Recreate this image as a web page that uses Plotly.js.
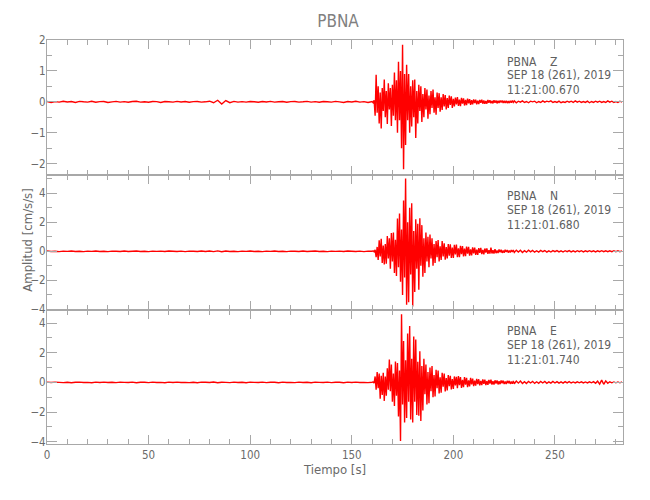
<!DOCTYPE html>
<html>
<head>
<meta charset="utf-8">
<script src="https://cdn.plot.ly/plotly-3.0.1.min.js"></script>
<style>
  html, body { margin: 0; padding: 0; background: #ffffff; }
  #chart { width: 650px; height: 500px; }
</style>
</head>
<body>
<div id="chart"></div>
<script>
// ---------------- data ----------------
const station = "PBNA";
const components = ["Z", "N", "E"];
const dateLabel = "SEP 18 (261), 2019";
const startTimes = ["11:21:00.670", "11:21:01.680", "11:21:01.740"];

// sampling of the three segments of each trace: [start time (s), step (s)]
const preSampling  = [0, 2];       // 0 .. 160 s
const actSampling  = [160.5, 0.5]; // 160.5 .. 230 s
const tailSampling = [231, 1];     // 231 .. 283 s

// ---- Z component (cm/s/s) ----
const zPre = [
  0.01,-0.02,0.005,-0.01,0.02,-0.005,0.01,-0.02,0.015,0.0,
  -0.01,0.02,-0.015,0.005,0.01,-0.02,0.0,0.015,-0.01,0.005,
  -0.015,0.01,0.02,-0.01,0.0,-0.015,0.01,0.005,-0.02,0.01,
  0.0,-0.01,0.015,-0.005,0.01,-0.015,0.005,0.01,-0.01,0.0,
  0.02,-0.03,0.05,-0.07,0.04,-0.03,0.015,-0.01,0.005,-0.01,
  0.01,0.0,-0.015,0.01,-0.005,0.015,-0.01,0.0,0.01,-0.015,
  0.005,0.01,-0.01,0.0,0.015,-0.01,0.005,-0.015,0.01,0.0,
  -0.01,0.015,0.0,-0.02,0.01,-0.005,0.02,-0.01,0.005,-0.02,
  0.01
];
const zAct = [
  -0.03,0.05,-0.45,0.88,-0.35,0.5,-0.7,0.3,-0.86,0.45,
  -0.3,0.72,-0.5,0.35,-0.72,0.6,-0.25,0.45,-0.78,0.55,
  -0.45,0.95,-0.6,0.7,-1.0,1.3,-0.6,1.0,-1.5,1.85,
  -2.18,0.9,-1.4,1.2,-0.6,0.9,-1.0,0.5,-0.8,0.7,
  -0.5,0.72,-1.17,0.35,-0.7,0.55,-0.3,0.5,-0.65,0.25,
  -0.5,0.45,-0.25,0.4,-0.55,0.2,-0.4,0.35,-0.2,0.4,
  -0.35,0.15,-0.42,0.3,-0.2,0.28,-0.32,0.15,-0.26,0.25,
  -0.15,0.22,-0.25,0.12,-0.2,0.2,-0.1,0.18,-0.2,0.1,
  -0.15,0.14,-0.08,0.15,-0.13,0.07,-0.14,0.13,-0.06,0.11,
  -0.12,0.06,-0.11,0.1,-0.05,0.09,-0.1,0.05,-0.08,0.08,
  -0.04,0.07,-0.08,0.04,-0.07,0.06,-0.03,0.07,-0.06,0.04,
  -0.06,0.03,-0.06,0.06,-0.03,0.05,-0.05,0.03,-0.05,0.05,
  -0.03,0.04,-0.05,0.03,-0.04,0.04,-0.02,0.04,-0.04,0.03,
  -0.04,0.03,-0.04,0.02,-0.04,0.03,-0.03,0.04,-0.02,0.03
];
const zTail = [
  -0.03,0.02,-0.01,0.03,-0.02,0.01,-0.03,0.02,0.0,0.02,
  -0.03,0.01,-0.02,0.03,-0.01,0.02,0.0,0.03,-0.02,0.01,
  -0.02,0.02,-0.03,0.0,-0.02,0.02,-0.01,0.02,-0.02,0.03,
  -0.01,0.02,-0.02,0.01,-0.02,0.02,-0.03,0.01,-0.02,0.02,
  -0.01,0.02,-0.02,0.01,-0.02,0.03,-0.01,0.02,-0.02,0.01,
  -0.02,0.02,-0.01
];

// ---- N component (cm/s/s) ----
const nPre = [
  0.02,-0.01,0.0,-0.02,0.015,-0.005,0.02,-0.015,0.0,-0.02,
  0.01,-0.005,0.02,-0.01,0.005,-0.02,0.015,0.0,-0.01,0.02,
  -0.015,0.005,0.02,-0.01,0.0,-0.02,0.015,-0.005,0.01,-0.015,
  0.02,0.0,-0.015,0.01,-0.02,0.015,0.005,-0.01,0.02,-0.015,
  0.02,-0.02,0.03,-0.03,0.02,-0.01,0.0,-0.02,0.015,-0.005,
  0.02,-0.015,0.0,-0.02,0.01,-0.005,0.02,-0.01,0.005,-0.02,
  0.015,0.0,-0.01,0.02,-0.015,0.005,0.02,-0.01,0.0,-0.02,
  0.015,-0.005,0.01,-0.015,0.02,0.0,-0.015,0.01,-0.02,0.015,
  0.0
];
const nAct = [
  0.03,-0.04,0.1,-0.4,0.3,-0.6,0.75,-0.35,0.86,-0.8,
  0.4,-0.9,0.5,-0.85,1.05,-0.5,0.9,-1.2,1.25,-0.7,
  1.3,-1.5,0.8,-1.7,2.26,-1.1,2.6,-2.1,1.5,-3.0,
  3.5,-1.8,5.0,-3.67,2.0,-3.5,3.0,-1.6,3.3,-3.8,
  1.4,-2.8,2.2,-1.2,1.9,-2.65,2.27,-1.0,1.8,-1.75,
  0.9,-1.5,1.3,-0.7,1.0,-1.1,1.15,-0.5,0.9,-1.0,
  0.5,-0.8,0.7,-0.4,0.78,-0.7,0.35,-0.6,0.7,-0.35,
  0.55,-0.58,0.3,-0.5,0.5,-0.3,0.48,-0.45,0.25,-0.46,
  0.45,-0.22,0.46,-0.4,0.2,-0.4,0.38,-0.2,0.36,-0.35,
  0.18,-0.33,0.32,-0.16,0.3,-0.3,0.14,-0.28,0.27,-0.14,
  0.26,-0.24,0.12,-0.24,0.22,-0.1,0.24,-0.2,0.1,-0.21,
  0.19,-0.08,0.2,-0.17,0.08,-0.16,0.25,-0.15,0.07,-0.15,
  0.14,-0.13,0.06,-0.12,0.13,-0.06,0.11,-0.11,0.05,-0.1,
  0.1,-0.05,0.09,-0.09,0.05,-0.08,0.09,-0.04,0.08,-0.08
];
const nTail = [
  0.08,-0.05,0.07,-0.08,0.04,-0.06,0.07,-0.04,0.06,-0.06,
  0.04,-0.05,0.06,-0.03,0.05,-0.06,0.03,-0.05,0.05,-0.03,
  0.05,-0.04,0.03,-0.05,0.04,-0.03,0.05,-0.04,0.03,-0.04,
  0.04,-0.03,0.04,-0.04,0.03,-0.03,0.04,-0.03,0.03,-0.04,
  0.03,-0.03,0.04,-0.03,0.03,-0.03,0.03,-0.03,0.03,-0.03,
  0.03,-0.03,0.03
];

// ---- E component (cm/s/s) ----
const ePre = [
  0.015,-0.01,0.02,0.0,-0.015,0.01,-0.02,0.005,0.015,-0.01,
  0.0,-0.02,0.015,-0.005,0.02,-0.01,0.005,-0.015,0.02,0.0,
  -0.01,0.015,-0.02,0.005,0.01,-0.015,0.02,-0.005,0.0,-0.02,
  0.015,-0.01,0.02,-0.005,0.0,-0.015,0.01,-0.02,0.015,0.005,
  -0.01,0.02,-0.02,0.01,0.0,-0.015,0.02,-0.01,0.005,-0.02,
  0.015,0.0,-0.01,0.02,-0.015,0.005,0.01,-0.02,0.015,-0.005,
  0.0,-0.015,0.02,-0.01,0.005,-0.02,0.015,0.0,-0.01,0.02,
  -0.015,0.005,0.01,-0.02,0.015,-0.005,0.02,-0.01,0.0,-0.015,
  0.01
];
const eAct = [
  0.03,-0.05,0.4,-0.5,0.7,-0.4,0.6,-1.1,0.45,-0.85,
  0.65,-1.25,0.4,-0.9,0.95,-0.5,1.55,-0.6,1.2,-1.3,
  0.6,-1.6,1.4,-0.9,1.3,-2.3,0.8,-3.95,4.6,-1.5,
  2.8,-2.7,1.5,-2.4,3.3,-1.3,3.8,-2.5,1.6,-2.7,
  3.1,-1.3,2.9,-2.2,1.4,-2.25,2.1,-2.6,1.1,-1.9,
  1.6,-0.8,1.2,-1.5,0.7,-1.4,1.0,-0.6,1.1,-1.0,
  0.5,-0.95,0.85,-0.4,0.8,-0.75,0.35,-0.7,0.65,-0.3,
  0.6,-0.62,0.3,-0.55,0.5,-0.25,0.45,-0.48,0.22,-0.45,
  0.4,-0.2,0.38,-0.4,0.42,-0.18,0.35,-0.38,0.17,-0.32,
  0.36,-0.15,0.3,-0.32,0.14,-0.27,0.3,-0.13,0.25,-0.26,
  0.12,-0.22,0.23,-0.11,0.21,-0.2,0.1,-0.19,0.2,-0.1,
  0.18,-0.18,0.09,-0.17,0.16,-0.08,0.18,-0.15,0.08,-0.15,
  0.14,-0.07,0.13,-0.14,0.07,-0.12,0.13,-0.06,0.12,-0.11,
  0.06,-0.11,0.1,-0.05,0.1,-0.1,0.05,-0.09,0.1,-0.09
];
const eTail = [
  0.09,-0.05,0.09,-0.08,0.05,-0.08,0.07,-0.04,0.07,-0.07,
  0.04,-0.06,0.07,-0.04,0.06,-0.06,0.03,-0.05,0.06,-0.04,
  0.05,-0.05,0.03,-0.05,0.05,-0.03,0.05,-0.04,0.03,-0.04,
  0.04,-0.03,0.04,-0.04,0.03,-0.04,0.04,-0.03,0.05,-0.06,
  0.08,-0.12,0.15,-0.13,0.1,-0.06,0.04,-0.03,0.03,-0.03,
  0.03,-0.03,0.03
];

// y-axis ranges of the three panels (cm/s/s) and tick spacing
const yRanges = [[-2.37, 2.002], [-4.005, 5.25], [-4.16, 4.92]];
const yMajor = [1, 2, 2];
const yMinor = [0.5, 1, 1];
const xRange = [0, 283.5];

// ---------------- build ----------------
function segTimes(sampling, n) {
  const out = [];
  for (let i = 0; i < n; i++) out.push(sampling[0] + i * sampling[1]);
  return out;
}
function trace(pre, act, tail) {
  return {
    x: segTimes(preSampling, pre.length)
        .concat(segTimes(actSampling, act.length))
        .concat(segTimes(tailSampling, tail.length)),
    y: pre.concat(act).concat(tail)
  };
}
const series = [trace(zPre, zAct, zTail), trace(nPre, nAct, nTail), trace(ePre, eAct, eTail)];

const FONT = "'DejaVu Sans Condensed', 'Liberation Sans', sans-serif";
const AXC = '#a8a8a8';
const TXT = '#6a6a6a';

// panel geometry (pixels) -> paper domains
const W = 650, H = 500;
const M = { l: 47.3, r: 26.7, t: 40, b: 56 };
const plotH = H - M.t - M.b;
const panelTops = [40, 175, 309.5, 444];
const domains = [0, 1, 2].map(i => [
  (H - M.b - panelTops[i + 1]) / plotH,
  (H - M.b - panelTops[i]) / plotH
]);

const traces = series.map((s, i) => ({
  type: 'scatter', mode: 'lines',
  x: s.x, y: s.y,
  xaxis: i === 0 ? 'x' : 'x' + (i + 1),
  yaxis: i === 0 ? 'y' : 'y' + (i + 1),
  line: { color: '#ff0000', width: 1.4, simplify: false },
  hoverinfo: 'skip', showlegend: false
}));

const layout = {
  width: W, height: H,
  margin: M,
  paper_bgcolor: '#ffffff', plot_bgcolor: '#ffffff',
  font: { family: FONT, color: TXT, size: 12 },
  title: {
    text: station,
    font: { family: FONT, size: 17, color: '#808080' },
    x: 0.52, xanchor: 'center', xref: 'container',
    y: 0.958, yanchor: 'middle', yref: 'container'
  },
  showlegend: false,
  annotations: []
};

for (let i = 0; i < 3; i++) {
  const sfx = i === 0 ? '' : String(i + 1);
  const last = i === 2;
  layout['xaxis' + sfx] = {
    domain: [0, 1], anchor: 'y' + sfx, range: xRange,
    showline: true, linecolor: AXC, linewidth: 1, mirror: 'ticks',
    ticks: 'inside', ticklen: 9, tickcolor: AXC, tickwidth: 1,
    tick0: 0, dtick: 50,
    minor: { dtick: 10, ticks: 'inside', ticklen: 5, tickcolor: AXC, tickwidth: 1 },
    showgrid: false, zeroline: false,
    showticklabels: last,
    tickfont: { family: FONT, size: 11.5, color: TXT },
    title: last ? { text: 'Tiempo [s]', font: { family: FONT, size: 13, color: TXT }, standoff: 4 } : { text: '' }
  };
  layout['yaxis' + sfx] = {
    domain: domains[i], anchor: 'x' + sfx, range: yRanges[i],
    showline: true, linecolor: AXC, linewidth: 1, mirror: 'ticks',
    ticks: 'inside', ticklen: 10, tickcolor: AXC, tickwidth: 1,
    tick0: 0, dtick: yMajor[i],
    minor: { dtick: yMinor[i], ticks: 'inside', ticklen: 5, tickcolor: AXC, tickwidth: 1 },
    showgrid: false, zeroline: false,
    ticklabelstandoff: -2,
    tickfont: { family: FONT, size: 11.5, color: TXT }
  };
}

// y-axis title spanning the three panels
layout.annotations.push({
  text: 'Amplitud [cm/s/s]', textangle: -90,
  xref: 'paper', yref: 'paper',
  x: (27 - M.l) / (W - M.l - M.r), y: (H - M.b - 240) / plotH,
  xanchor: 'center', yanchor: 'middle', showarrow: false,
  font: { family: FONT, size: 13, color: TXT }
});

// per-panel header texts (pixel rows of each line)
const headerRows = [[61.5, 75.5, 90], [196, 210, 225], [331, 345, 360]];
const headerX = (505 - M.l) / (W - M.l - M.r);
for (let i = 0; i < 3; i++) {
  const lines = [station + '\u00a0\u00a0\u00a0\u00a0' + components[i], dateLabel, startTimes[i]];
  lines.forEach((txt, k) => {
    layout.annotations.push({
      text: txt, xref: 'paper', yref: 'paper',
      x: headerX, y: (H - M.b - headerRows[i][k]) / plotH,
      xanchor: 'left', yanchor: 'middle', showarrow: false,
      font: { family: FONT, size: 12, color: '#606060' }
    });
  });
}

Plotly.newPlot('chart', traces, layout, { staticPlot: true, displayModeBar: false });
</script>
</body>
</html>
